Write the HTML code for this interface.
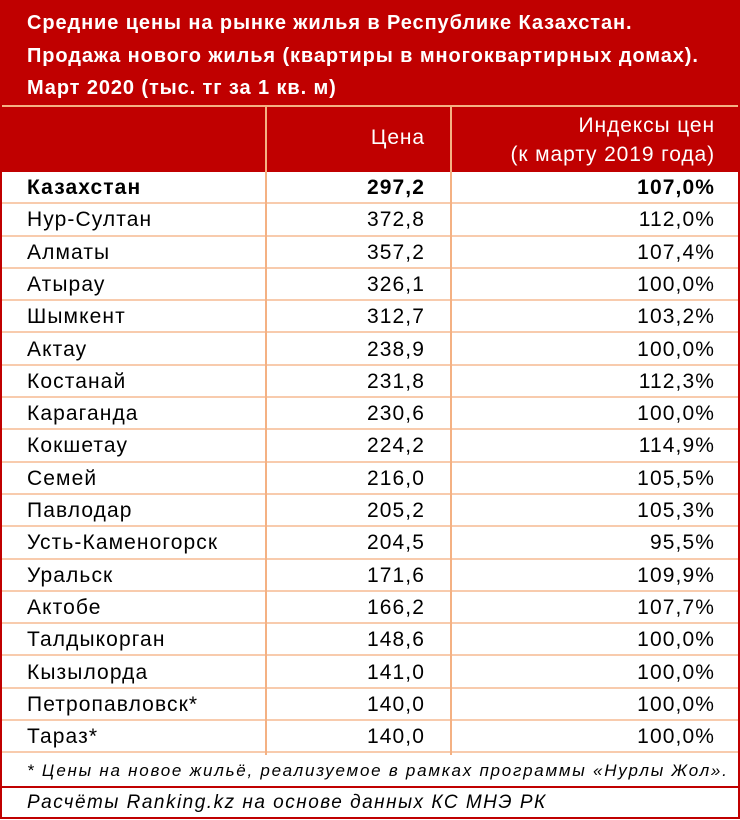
<!DOCTYPE html>
<html><head><meta charset="utf-8"><style>
*{margin:0;padding:0;box-sizing:border-box}
body{width:740px;height:820px;background:#fff;font-family:"Liberation Sans",sans-serif;position:relative;overflow:hidden}
#box{position:absolute;left:0;top:0;width:740px;height:819px;border:2px solid #c00000}
#title{position:absolute;left:0;top:0;width:740px;height:106px;background:#c00000;color:#fff;font-weight:bold;font-size:20px;letter-spacing:0.9px;padding:7px 0 0 27px;line-height:32.5px;white-space:nowrap}
#hdr{position:absolute;left:0;top:107px;width:740px;height:65px;background:#c00000;color:#fff;font-size:21px;letter-spacing:0.9px}
#hline{position:absolute;left:0;top:105px;width:740px;height:2px;background:#f4b183}
.vd{position:absolute;width:2px;background:#f4b183}
.row{position:absolute;left:0;width:740px;height:32.3px;border-bottom:2px solid #f8cbad;font-size:21px;letter-spacing:1.1px;line-height:31px;color:#000}
.row span{position:absolute}
.n{left:27px}.p{right:315px}.i{right:25px}
.b{font-weight:bold}
#foot{position:absolute;left:0;top:755px;width:740px;height:31px;font-style:italic;font-size:17px;line-height:31px;padding-left:27px;letter-spacing:1.75px;white-space:nowrap}
#fl{position:absolute;left:0;top:786px;width:740px;height:2px;background:#c00000}
#src{position:absolute;left:0;top:788px;width:740px;height:29px;font-style:italic;font-size:19px;line-height:29px;padding-left:27px;letter-spacing:1.5px}
</style></head><body>
<div id="title">Средние цены на рынке жилья в Республике Казахстан.<br>Продажа нового жилья (квартиры в многоквартирных домах).<br>Март 2020 (тыс. тг за 1 кв. м)</div>
<div id="hdr">
<span style="position:absolute;right:315px;top:19px">Цена</span>
<span style="position:absolute;right:25px;top:4px;line-height:29px;text-align:right">Индексы цен<br>(к марту 2019 года)</span>
</div>
<div id="hline"></div>
<div id="rows"></div>
<div class="vd" style="left:265px;top:107px;height:648px"></div>
<div class="vd" style="left:450px;top:107px;height:648px"></div>
<div id="foot">* Цены на новое жильё, реализуемое в рамках программы «Нурлы Жол».</div>
<div id="fl"></div>
<div id="src">Расчёты Ranking.kz на основе данных КС МНЭ РК</div>
<div id="box"></div>
<script>
var d=[["Казахстан","297,2","107,0%"],["Нур-Султан","372,8","112,0%"],["Алматы","357,2","107,4%"],["Атырау","326,1","100,0%"],["Шымкент","312,7","103,2%"],["Актау","238,9","100,0%"],["Костанай","231,8","112,3%"],["Караганда","230,6","100,0%"],["Кокшетау","224,2","114,9%"],["Семей","216,0","105,5%"],["Павлодар","205,2","105,3%"],["Усть-Каменогорск","204,5","95,5%"],["Уральск","171,6","109,9%"],["Актобе","166,2","107,7%"],["Талдыкорган","148,6","100,0%"],["Кызылорда","141,0","100,0%"],["Петропавловск*","140,0","100,0%"],["Тараз*","140,0","100,0%"]];
var h="";d.forEach(function(r,k){h+='<div class="row'+(k==0?' b':'')+'" style="top:'+(172+k*32.3)+'px"><span class="n">'+r[0]+'</span><span class="p">'+r[1]+'</span><span class="i">'+r[2]+'</span></div>';});
document.getElementById("rows").innerHTML=h;
</script>
</body></html>
